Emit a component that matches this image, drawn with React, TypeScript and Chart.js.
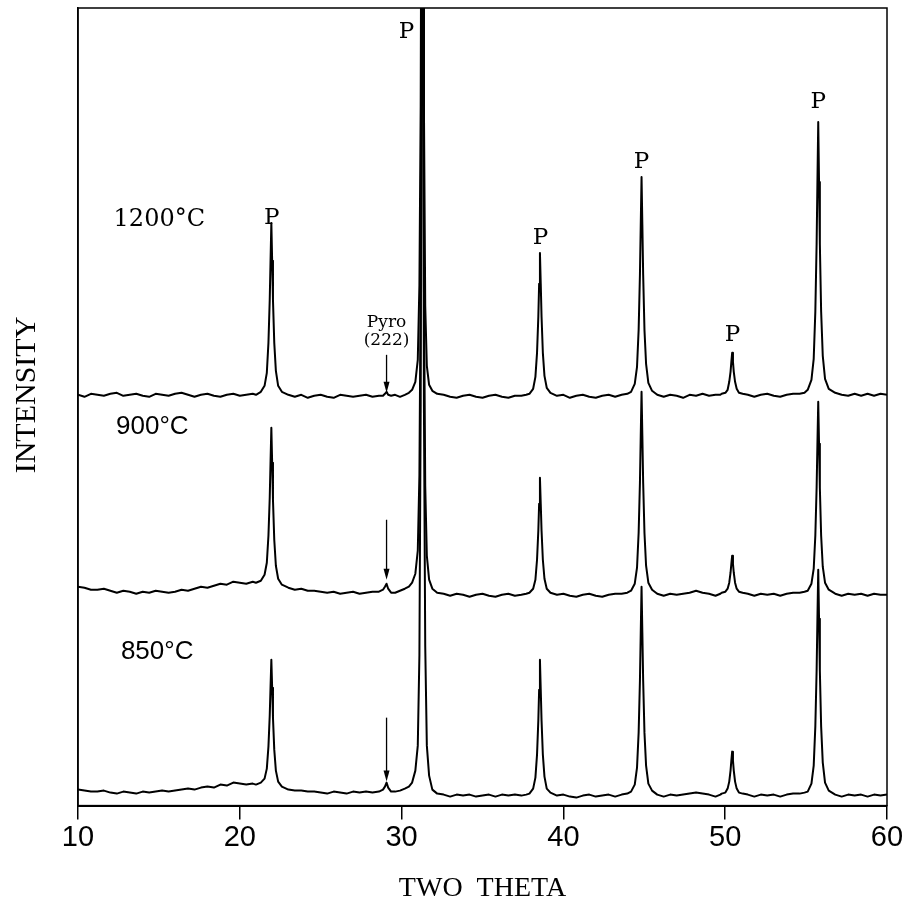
import React, { useEffect, useRef } from "react";
import { Chart, registerables } from "chart.js";

Chart.register(...registerables);

// 2-theta grid (degrees)
const twoTheta = [
  10.0, 10.4, 10.8, 11.2, 11.6, 12.0, 12.4, 12.8, 13.2, 13.6, 14.0, 14.4, 14.8, 15.2, 15.6, 16.0, 16.4, 16.8, 17.2, 17.6, 18.0, 18.4, 18.8, 19.2, 19.6, 20.0, 20.4, 20.8, 21.0,
  21.3, 21.53, 21.67, 21.77, 21.85, 21.9, 21.95, 22.0, 22.05, 22.13, 22.23, 22.37, 22.6,
  23.0, 23.4, 23.8, 24.2, 24.6, 25.0, 25.4, 25.8, 26.2, 26.6, 27.0, 27.4, 27.8, 28.2, 28.6,
  28.85, 28.97, 29.07, 29.17, 29.35,
  29.6, 29.9, 30.2, 30.45,
  30.65, 30.85, 31.0, 31.1, 31.18, 31.23, 31.28, 31.33, 31.38, 31.46, 31.56, 31.7, 31.9, 32.2,
  32.6, 33.0, 33.4, 33.8, 34.2, 34.6, 35.0, 35.4, 35.8, 36.2, 36.6, 37.0, 37.4, 37.7,
  37.9, 38.13, 38.27, 38.37, 38.45, 38.5, 38.55, 38.6, 38.65, 38.73, 38.83, 38.97, 39.2,
  39.6, 40.0, 40.4, 40.8, 41.2, 41.6, 42.0, 42.4, 42.8, 43.2, 43.6, 43.95,
  44.18, 44.41, 44.55, 44.65, 44.73, 44.78, 44.83, 44.88, 44.93, 45.01, 45.11, 45.25, 45.48,
  45.8, 46.2, 46.6, 47.0, 47.4, 47.8, 48.2, 48.6, 49.0, 49.4, 49.7,
  49.78, 50.01, 50.15, 50.25, 50.33, 50.38, 50.43, 50.48, 50.53, 50.61, 50.71, 50.85, 51.08,
  51.4, 51.8, 52.2, 52.6, 53.0, 53.4, 53.8, 54.2, 54.6, 54.9,
  55.1, 55.33, 55.47, 55.57, 55.65, 55.7, 55.75, 55.8, 55.85, 55.93, 56.03, 56.17, 56.4,
  56.8, 57.2, 57.6, 58.0, 58.4, 58.8, 59.2, 59.6, 60.0,
];

// Intensities (arbitrary units, traces offset vertically)
const int1200 = [
  411, 409, 412, 411, 410, 412, 413, 410, 411, 412, 410, 409, 412, 411, 410, 412, 413, 411, 409, 411, 412, 410, 409, 411, 412, 410, 411, 412, 411,
  414, 420, 433, 463, 506, 545, 583, 545, 506, 463, 435, 420, 414,
  411, 409, 411, 408, 410, 411, 409, 408, 411, 410, 409, 410, 411, 409, 410,
  410, 412, 414, 411, 410,
  411, 409, 411, 413,
  416, 424, 446, 520, 700, 1000, 1500, 1000, 700, 500, 440, 421, 415, 412,
  411, 409, 408, 410, 411, 409, 408, 410, 411, 409, 408, 410, 410, 411,
  412, 417, 429, 453, 489, 522, 553, 522, 489, 453, 430, 418, 413,
  410, 411, 408, 410, 411, 409, 408, 410, 411, 409, 411, 412,
  414, 422, 439, 476, 531, 581, 629, 581, 531, 476, 442, 423, 415,
  411, 409, 411, 410, 408, 411, 410, 412, 410, 411, 411,
  412, 413, 416, 424, 434, 444, 453, 444, 434, 424, 417, 413, 412,
  411, 409, 411, 412, 410, 409, 411, 412, 412, 413,
  416, 426, 447, 494, 562, 624, 684, 624, 562, 494, 450, 427, 417,
  413, 411, 410, 412, 410, 412, 410, 412, 411,
];

const int900 = [
  219, 218, 216, 216, 217, 215, 213, 215, 214, 212, 214, 213, 215, 214, 213, 214, 216, 215, 217, 219, 218, 220, 222, 221, 224, 223, 222, 224, 223,
  225, 231, 243, 270, 308, 344, 378, 343, 306, 266, 240, 227, 221,
  218, 216, 217, 215, 215, 214, 213, 214, 212, 213, 214, 212, 213, 214, 214,
  216, 219, 222, 217, 213,
  213, 215, 217, 219,
  223, 232, 255, 330, 520, 850, 1400, 850, 520, 320, 250, 226, 217, 213,
  212, 210, 212, 211, 209, 211, 212, 210, 209, 211, 212, 210, 211, 212,
  213, 217, 226, 246, 275, 302, 328, 302, 275, 246, 227, 217, 213,
  211, 212, 210, 209, 211, 212, 210, 209, 211, 212, 212, 213,
  215, 222, 238, 273, 323, 370, 414, 370, 323, 273, 240, 223, 216,
  212, 210, 212, 211, 212, 213, 215, 213, 212, 210, 212,
  213, 214, 217, 223, 233, 242, 250, 242, 233, 223, 217, 214, 213,
  212, 210, 212, 211, 212, 210, 212, 213, 213, 214,
  215, 222, 237, 270, 318, 362, 404, 362, 318, 270, 239, 223, 216,
  212, 210, 212, 211, 212, 210, 212, 211, 211,
];

const int850 = [
  16, 15, 14, 14, 15, 13, 12, 14, 13, 12, 14, 13, 14, 15, 14, 15, 16, 17, 16, 18, 19, 18, 21, 20, 23, 22, 21, 22, 21,
  23, 27, 37, 59, 90, 119, 146, 118, 88, 56, 35, 24, 19,
  16, 15, 15, 14, 14, 13, 12, 14, 13, 12, 14, 13, 14, 13, 14,
  16, 19, 23, 18, 14,
  14, 15, 17, 19,
  23, 35, 60, 150, 400, 800, 1400, 800, 400, 160, 60, 30, 16, 12,
  11, 9, 11, 10, 11, 9, 10, 11, 9, 11, 10, 11, 10, 11,
  12, 17, 28, 51, 85, 116, 146, 116, 85, 51, 29, 17, 13,
  10, 11, 9, 8, 10, 11, 9, 10, 11, 9, 11, 12,
  14, 21, 38, 73, 125, 173, 219, 173, 125, 73, 40, 22, 15,
  11, 9, 11, 10, 11, 12, 13, 12, 11, 9, 11,
  12, 13, 17, 24, 35, 45, 54, 45, 35, 24, 17, 13, 12,
  11, 9, 11, 10, 11, 9, 11, 12, 12, 13,
  14, 22, 40, 79, 135, 187, 236, 187, 135, 79, 43, 23, 15,
  11, 9, 11, 10, 11, 9, 11, 10, 11,
];

const xTicks = [10, 20, 30, 40, 50, 60];
const xTitle = "TWO  THETA";
const yTitle = "INTENSITY";

const traceNames = ["1200°C", "900°C", "850°C"];
const traceNameX = [12.2, 12.35, 12.65];
const traceNameY = [586, 379, 154];

const peakLabelX = [21.98, 30.3, 38.58, 44.83, 50.45, 55.75];
const peakLabelY = [588, 774, 568, 644, 471, 704];

const pyroPos = 29.07;
const pyroLines = ["Pyro", "(222)"];
const pyroLineY = [483, 465];
const arrowStart = [451, 286, 88];
const arrowEnd = [413, 226, 24];

const annotate = {
  id: "annotate",
  afterDatasetsDraw(chart: any) {
    const { ctx, chartArea, scales } = chart;
    const x = scales.x;
    const y = scales.y;
    ctx.save();
    ctx.strokeStyle = "#000";
    ctx.fillStyle = "#000";
    ctx.lineWidth = 1.5;
    ctx.strokeRect(
      chartArea.left,
      chartArea.top,
      chartArea.right - chartArea.left,
      chartArea.bottom - chartArea.top
    );

    ctx.textAlign = "center";
    ctx.textBaseline = "middle";
    ctx.font = '23px "DejaVu Serif"';
    peakLabelX.forEach((px, i) => {
      ctx.fillText("P", x.getPixelForValue(px), y.getPixelForValue(peakLabelY[i]));
    });

    ctx.textAlign = "left";
    traceNames.forEach((t, i) => {
      ctx.font = i === 0 ? '24px "DejaVu Serif"' : '26px "Liberation Sans"';
      ctx.fillText(t, x.getPixelForValue(traceNameX[i]), y.getPixelForValue(traceNameY[i]));
    });

    ctx.textAlign = "center";
    ctx.font = '17px "DejaVu Serif"';
    pyroLines.forEach((t, i) => {
      ctx.fillText(t, x.getPixelForValue(pyroPos), y.getPixelForValue(pyroLineY[i]));
    });

    const ax = x.getPixelForValue(pyroPos);
    ctx.lineWidth = 1.3;
    arrowStart.forEach((s, i) => {
      const y0 = y.getPixelForValue(s);
      const y1 = y.getPixelForValue(arrowEnd[i]);
      ctx.beginPath();
      ctx.moveTo(ax, y0);
      ctx.lineTo(ax, y1 - 8);
      ctx.stroke();
      ctx.beginPath();
      ctx.moveTo(ax - 3, y1 - 11);
      ctx.lineTo(ax + 3, y1 - 11);
      ctx.lineTo(ax, y1);
      ctx.closePath();
      ctx.fill();
    });

    // vertical axis title
    ctx.save();
    ctx.translate(27, 395);
    ctx.rotate(-Math.PI / 2);
    ctx.font = '30px "Liberation Serif"';
    ctx.textAlign = "center";
    ctx.textBaseline = "middle";
    ctx.fillText(yTitle, 0, 0);
    ctx.restore();
    ctx.restore();
  },
};

export default function App() {
  const canvasRef = useRef<HTMLCanvasElement | null>(null);

  useEffect(() => {
    const canvas = canvasRef.current;
    if (!canvas) return;
    const mk = (vals: number[]) => twoTheta.map((t, i) => ({ x: t, y: vals[i] }));
    const base = {
      borderColor: "#000",
      borderWidth: 2,
      pointRadius: 0,
      tension: 0,
      fill: false,
      borderJoinStyle: "round" as const,
    };
    const chart = new Chart(canvas, {
      type: "line",
      data: {
        datasets: [
          { ...base, label: traceNames[0], data: mk(int1200) },
          { ...base, label: traceNames[1], data: mk(int900) },
          { ...base, label: traceNames[2], data: mk(int850) },
        ],
      },
      options: {
        responsive: false,
        animation: false,
        devicePixelRatio: 1,
        layout: { padding: { top: 8, right: 22, bottom: 0, left: 78 } },
        plugins: { legend: { display: false }, tooltip: { enabled: false } },
        scales: {
          x: {
            type: "linear",
            min: 10,
            max: 60,
            afterBuildTicks: (s: any) => {
              s.ticks = xTicks.map((v) => ({ value: v }));
            },
            ticks: {
              color: "#000",
              font: { family: "Liberation Sans", size: 29 },
              padding: 1,
              maxRotation: 0,
              autoSkip: false,
            },
            grid: {
              drawOnChartArea: false,
              drawTicks: true,
              tickLength: 14,
              color: "#000",
              lineWidth: 1.5,
            },
            border: { display: true, color: "#000", width: 2 },
            title: {
              display: true,
              text: xTitle,
              color: "#000",
              font: { family: "Liberation Serif", size: 28 },
              padding: { top: 15, bottom: 2 },
            },
          },
          y: {
            type: "linear",
            min: 0,
            max: 798,
            ticks: { display: false },
            grid: { display: false, drawTicks: false },
            border: { display: true, color: "#000", width: 1.5 },
            title: { display: false, text: yTitle },
          },
        },
      },
      plugins: [annotate],
    });
    return () => chart.destroy();
  }, []);

  return (
    <div style={{ position: "absolute", left: 0, top: 0, width: 909, height: 907, background: "#fff" }}>
      <canvas ref={canvasRef} width={909} height={907} style={{ display: "block" }} />
    </div>
  );
}
